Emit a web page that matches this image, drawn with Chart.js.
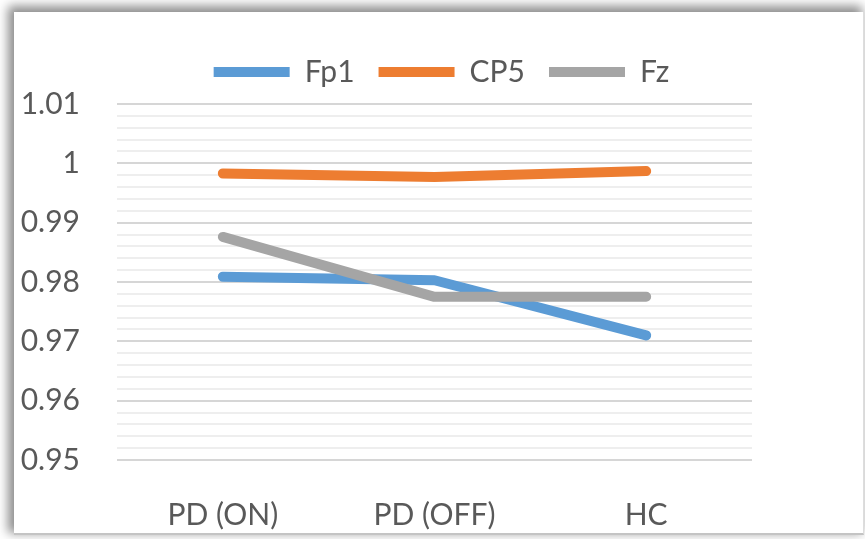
<!DOCTYPE html>
<html>
<head>
<meta charset="utf-8">
<script src="https://cdn.jsdelivr.net/npm/chart.js@4"></script>
<style>
    body { margin: 0; background: #ffffff; width: 865px; height: 539px; overflow: hidden; }
    .card {
        position: absolute; left: 14px; top: 12px; width: 849px; height: 521px;
        background: #ffffff;
        box-shadow: -4px -4px 10px 2px rgba(0, 0, 0, 0.45);
        border-right: 1px solid #dddddd;
        border-bottom: 2px solid #c4c4c4;
    }
    #grafico { position: absolute; left: 0; top: 0; }
</style>
</head>
<body>
<div class="card"></div>
<canvas id="grafico" width="865" height="539"></canvas>
<script>
// Categorías y valores
const categorias = ["PD (ON)", "PD (OFF)", "HC"];
const fp1 = [0.9809, 0.9803, 0.9710];
const cp5 = [0.9983, 0.9977, 0.9987];
const fz = [0.9876, 0.9775, 0.9775];

// Colores de cada serie (paleta por defecto de Excel)
const colores = {
    "Fp1": "#5B9BD5",
    "CP5": "#ED7D31",
    "Fz": "#A5A5A5"
};

const fuente = "Lato, 'Open Sans', sans-serif";

// Es una marca principal (múltiplo de 0.01)?
function esPrincipal(v) {
    return Math.abs(v * 100 - Math.round(v * 100)) < 1e-6;
}

function serie(nombre, valores, orden) {
    return {
        label: nombre,
        data: valores,
        borderColor: colores[nombre],
        backgroundColor: colores[nombre],
        borderWidth: 10,
        borderCapStyle: "round",
        borderJoinStyle: "round",
        pointRadius: 0,
        pointHoverRadius: 0,
        tension: 0,
        fill: false,
        order: orden
    };
}

// Deja un poco más de espacio debajo de la leyenda
const margenLeyenda = {
    id: "margenLeyenda",
    beforeInit(chart) {
        const fitOriginal = chart.legend.fit;
        chart.legend.fit = function () {
            fitOriginal.bind(chart.legend)();
            this.height += 7;
        };
    }
};

const ctx = document.getElementById("grafico").getContext("2d");

new Chart(ctx, {
    type: "line",
    data: {
        labels: categorias,
        datasets: [
            serie("Fp1", fp1, 3),
            serie("CP5", cp5, 2),
            serie("Fz", fz, 1)
        ]
    },
    plugins: [margenLeyenda],
    options: {
        responsive: false,
        animation: false,
        layout: {
            padding: { top: 33, left: 18, right: 0, bottom: 0 }
        },
        plugins: {
            tooltip: { enabled: false },
            legend: {
                position: "top",
                labels: {
                    usePointStyle: true,
                    pointStyle: "line",
                    pointStyleWidth: 76,
                    padding: 24,
                    color: "#595959",
                    font: { family: fuente, size: 30 },
                    sort: (a, b) => a.datasetIndex - b.datasetIndex
                }
            }
        },
        scales: {
            x: {
                offset: true,
                grid: { display: false },
                border: { display: false },
                ticks: {
                    color: "#595959",
                    padding: 29,
                    maxRotation: 0,
                    font: { family: fuente, size: 30 }
                },
                afterFit: (s) => { s.height = 79; }
            },
            y: {
                min: 0.95,
                max: 1.01,
                border: { display: false },
                grid: {
                    drawTicks: false,
                    lineWidth: 2,
                    color: (c) => esPrincipal(c.tick.value) ? "#d6d6d6" : "#eeeeee"
                },
                ticks: {
                    stepSize: 0.002,
                    autoSkip: false,
                    padding: 37,
                    color: "#595959",
                    font: { family: fuente, size: 30 },
                    callback: (v) => esPrincipal(v) ? String(Math.round(v * 100) / 100) : ""
                },
                afterFit: (s) => { s.width = 99; }
            },
            // Eje vacío a la derecha: reserva el margen blanco del original
            derecha: {
                position: "right",
                min: 0.95,
                max: 1.01,
                grid: { display: false },
                border: { display: false },
                ticks: { display: false },
                afterFit: (s) => { s.width = 113; }
            }
        }
    }
});
</script>
</body>
</html>
